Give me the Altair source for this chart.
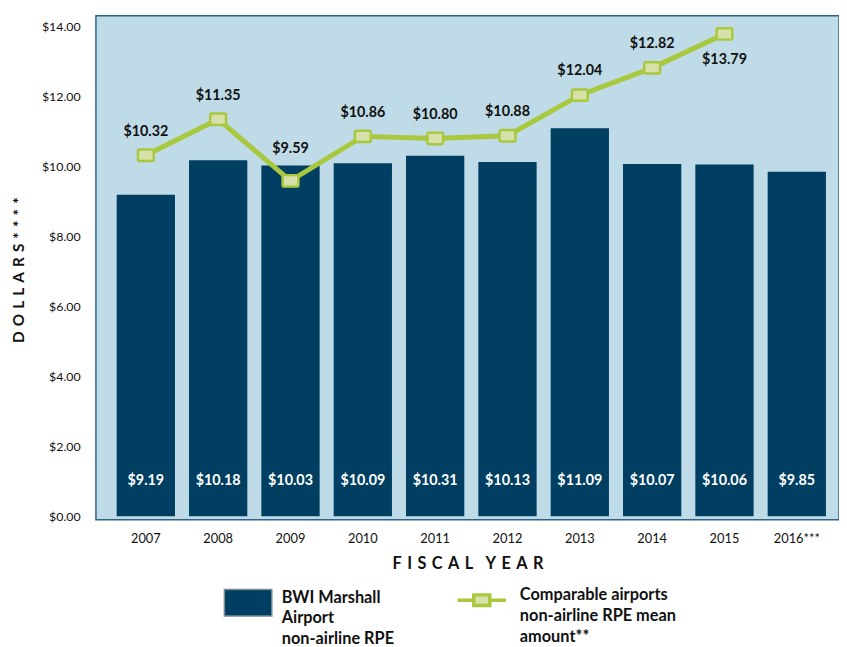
import altair as alt
import pandas as pd

years = ["2007", "2008", "2009", "2010", "2011", "2012", "2013", "2014", "2015", "2016***"]
bwi = [9.19, 10.18, 10.03, 10.09, 10.31, 10.13, 11.09, 10.07, 10.06, 9.85]
comp = [10.32, 11.35, 9.59, 10.86, 10.80, 10.88, 12.04, 12.82, 13.79, None]
y_ticks = [0, 2, 4, 6, 8, 10, 12, 14]

BAR_NAME = "BWI Marshall|Airport|non-airline RPE"
LINE_NAME = "Comparable airports|non-airline RPE mean|amount**"

df = pd.DataFrame({"year": years, "bwi": bwi, "comp": comp})
df["bar_series"] = BAR_NAME
df["line_series"] = LINE_NAME

FONT = "Lato"
NAVY = "#003f62"
GREEN = "#a9c83d"
MARKER_FILL = "#d6e0a9"

GAP = "\u2004"
WORD_GAP = "\u2003"
x_title = GAP.join("FISCAL") + WORD_GAP + GAP.join("YEAR")
y_title = GAP.join("DOLLARS****")

x_enc = alt.X(
    "year:N",
    sort=years,
    scale=alt.Scale(paddingInner=0.194, paddingOuter=0.2336, align=0.614),
    axis=alt.Axis(
        title=x_title,
        labelAngle=0,
        ticks=False,
        domain=False,
        labelPadding=13,
        labelFontSize=13,
        labelFont=FONT,
        labelColor="#111111",
        titleFont=FONT,
        titleFontSize=16.5,
        titleFontWeight="bold",
        titleColor="#111111",
        titleY=44,
        titleBaseline="middle",
    ),
)

y_scale = alt.Scale(domain=[-0.1, 14.31], nice=False, zero=False)

base = alt.Chart(df)

bars = base.mark_bar().encode(
    x=x_enc,
    y=alt.Y(
        "bwi:Q",
        scale=y_scale,
        axis=alt.Axis(
            values=y_ticks,
            format="$.2f",
            title=y_title,
            grid=False,
            ticks=False,
            domain=False,
            labelPadding=16,
            labelFontSize=12.5,
            labelFont=FONT,
            labelColor="#111111",
            titleFont=FONT,
            titleFontSize=15.5,
            titleFontWeight="bold",
            titleColor="#111111",
            titleAngle=270,
            titleX=-78,
            titleY=257,
            titleAlign="center",
            titleBaseline="middle",
        ),
    ),
    y2=alt.datum(0),
    fill=alt.Fill(
        "bar_series:N",
        scale=alt.Scale(domain=[BAR_NAME], range=[NAVY]),
        legend=alt.Legend(
            orient="none",
            legendX=129,
            legendY=569,
            title=None,
            symbolType="M-1,-0.56H1V0.56H-1Z",
            symbolSize=2304,
            symbolStrokeColor="#7a8a94",
            symbolStrokeWidth=1.5,
            labelExpr="split(datum.label, '|')",
            labelFont=FONT,
            labelFontSize=16.5,
            labelFontWeight="bold",
            labelColor="#111111",
            labelLimit=400,
            labelOffset=9,
            labelBaseline="alphabetic",
            padding=0,
        ),
    ),
)

bar_labels = base.mark_text(
    color="white", fontWeight="bold", fontSize=14.5, font=FONT, baseline="middle"
).encode(
    x=alt.X("year:N", sort=years),
    y=alt.datum(1.0),
    text=alt.Text("bwi:Q", format="$.2f"),
)

line_base = base.transform_filter("isValid(datum.comp)")

line = line_base.mark_line(strokeWidth=5).encode(
    x=alt.X("year:N", sort=years),
    y=alt.Y("comp:Q", scale=y_scale),
    stroke=alt.Stroke(
        "line_series:N",
        scale=alt.Scale(domain=[LINE_NAME], range=[GREEN]),
        legend=alt.Legend(
            orient="none",
            legendX=364,
            legendY=565,
            title=None,
            symbolType="M-1,0H-0.33M0.33,0H1M-0.33,-0.22H0.33V0.22H-0.33Z",
            symbolSize=2401,
            symbolStrokeWidth=3.5,
            symbolFillColor=MARKER_FILL,
            labelExpr="split(datum.label, '|')",
            labelFont=FONT,
            labelFontSize=16.5,
            labelFontWeight="bold",
            labelColor="#111111",
            labelLimit=400,
            labelOffset=12,
            labelBaseline="alphabetic",
            padding=0,
        ),
    ),
)

marker_shape = (
    "M-0.8,-0.72H0.8Q1,-0.72 1,-0.52V0.52Q1,0.72 0.8,0.72H-0.8"
    "Q-1,0.72 -1,0.52V-0.52Q-1,-0.72 -0.8,-0.72Z"
)
points = line_base.mark_point(
    shape=marker_shape,
    size=256,
    filled=True,
    fill=MARKER_FILL,
    stroke=GREEN,
    strokeWidth=2.5,
    opacity=1,
).encode(
    x=alt.X("year:N", sort=years),
    y=alt.Y("comp:Q", scale=y_scale),
)

label_style = dict(fontWeight="bold", fontSize=14.5, font=FONT, color="#111111", baseline="middle")

line_labels = line_base.transform_filter(
    "datum.year != '2009' && datum.year != '2015'"
).mark_text(dy=-24, **label_style).encode(
    x=alt.X("year:N", sort=years),
    y=alt.Y("comp:Q", scale=y_scale),
    text=alt.Text("comp:Q", format="$.2f"),
)
label_2009 = line_base.transform_filter("datum.year == '2009'").mark_text(
    dy=-32, **label_style
).encode(
    x=alt.X("year:N", sort=years),
    y=alt.Y("comp:Q", scale=y_scale),
    text=alt.Text("comp:Q", format="$.2f"),
)
label_2015 = line_base.transform_filter("datum.year == '2015'").mark_text(
    dy=26, **label_style
).encode(
    x=alt.X("year:N", sort=years),
    y=alt.Y("comp:Q", scale=y_scale),
    text=alt.Text("comp:Q", format="$.2f"),
)

chart = (
    alt.layer(bars, bar_labels, line, points, line_labels, label_2009, label_2015)
    .resolve_scale(fill="independent", stroke="independent")
    .properties(
        width=752,
        height=510,
        padding={"left": 89, "top": 4, "right": 0, "bottom": 125},
        autosize=alt.AutoSizeParams(type="none"),
        background="white",
    )
    .configure(style={"guide-label": {"lineHeight": 21}})
    .configure_view(fill="#bfdbe7", stroke="#2f6386", strokeWidth=1.5)
)

chart.save("out.html", embed_options={"renderer": "svg", "actions": False})
